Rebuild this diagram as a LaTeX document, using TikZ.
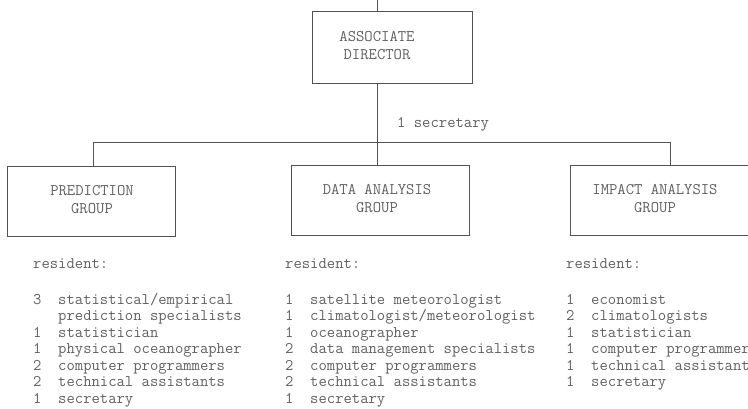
\documentclass[tikz,border=0pt]{standalone}
\usepackage{fontspec}
\definecolor{textgray}{gray}{0.38}
\definecolor{linegray}{gray}{0.32}
\tikzset{
  tw/.style={font=\fontsize{16.2}{18}\selectfont\ttfamily, text=textgray, inner sep=0pt},
  orgbox/.style={draw=linegray, line width=0.9pt, rectangle, inner sep=0pt},
  conn/.style={draw=linegray, line width=0.9pt},
}
\begin{document}
\begin{tikzpicture}[x=1pt, y=-1pt]
\clip (0,0) rectangle (748,408);
\fill[white] (0,0) rectangle (748,408);
% director
\node[orgbox, minimum width=160pt, minimum height=72pt] (dirbox) at (392,47) {};
\node[tw, align=center] (dirtext) at (377,46) {ASSOCIATE\\DIRECTOR};
\coordinate (top) at (377,0);
\coordinate (bar) at (377,142);
\coordinate (barL) at (93,142);
\coordinate (barR) at (670,142);
\draw[conn] (top) -- (dirbox.north -| top);
\draw[conn] (dirbox.south -| top) -- (bar);
\node[tw, anchor=base west] (sec) at (397,127) {1 secretary};
% groups
\node[orgbox, minimum width=168pt, minimum height=70pt] (pred) at (91,201) {};
\node[tw, align=center] (predt) at (92,200) {PREDICTION\\GROUP};
\node[orgbox, minimum width=178pt, minimum height=70pt] (data) at (380,200) {};
\node[tw, align=center] (datat) at (377,199) {DATA ANALYSIS\\GROUP};
\node[orgbox, minimum width=190pt, minimum height=70pt] (imp) at (665,200) {};
\node[tw, align=center] (impt) at (655,199) {IMPACT ANALYSIS\\GROUP};
\draw[conn] (pred.north -| barL) -- (barL) -- (barR) -- (imp.north -| barR);
\draw[conn] (bar) -- (data.north -| bar);
% lists
\node[tw, anchor=base west] (pres) at (33,268) {resident:};
\node[tw, anchor=base west] (dres) at (285,268) {resident:};
\node[tw, anchor=base west] (ires) at (566,268) {resident:};
\foreach [count=\i] \t in {{3~~statistical/empirical},{\hphantom{3}~~prediction specialists},{1~~statistician},{1~~physical oceanographer},{2~~computer programmers},{2~~technical assistants},{1~~secretary}}
  \node[tw, anchor=base west] (p\i) at (33,{304+16.5*(\i-1)}) {\t};
\foreach [count=\i] \t in {{1~~satellite meteorologist},{1~~climatologist/meteorologist},{1~~oceanographer},{2~~data management specialists},{2~~computer programmers},{2~~technical assistants},{1~~secretary}}
  \node[tw, anchor=base west] (d\i) at (285,{304+16.5*(\i-1)}) {\t};
\foreach [count=\i] \t in {{1~~economist},{2~~climatologists},{1~~statistician},{1~~computer programmer},{1~~technical assistant},{1~~secretary}}
  \node[tw, anchor=base west] (m\i) at (566,{304+16.5*(\i-1)}) {\t};
\end{tikzpicture}
\end{document}
